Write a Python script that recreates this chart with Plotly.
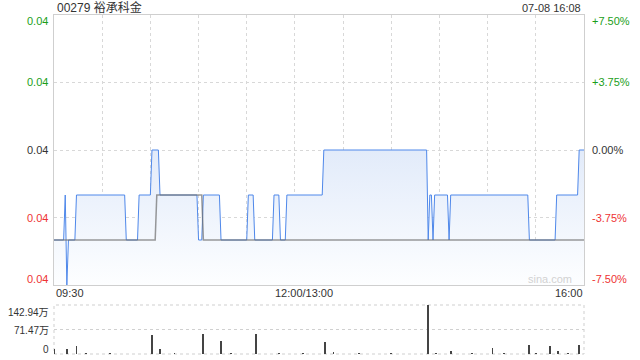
import plotly.graph_objects as go

# ---------------- data ----------------
title_text = "00279 裕承科金"
stamp_text = "07-08 16:08"
prev_close = 0.040

price_times = ["09:30", "09:36", "09:37", "09:38", "09:39", "09:43", "09:44", "10:14", "10:15",
               "10:22", "10:23", "10:30", "10:31", "10:35", "10:36", "10:59", "11:00", "11:02",
               "11:03", "11:13", "11:14", "11:30", "11:31", "11:34", "11:35", "11:46", "11:47",
               "11:50", "11:51", "11:54", "11:55", "13:17", "13:18", "14:22", "14:23", "14:24",
               "14:25", "14:26", "14:27", "14:35", "14:36", "14:37", "15:25", "15:26", "15:42",
               "15:43", "15:56", "15:57", "16:00"]
price_values = [0.038, 0.038, 0.039, 0.037, 0.038, 0.038, 0.039, 0.039, 0.038,
                0.038, 0.039, 0.039, 0.040, 0.040, 0.039, 0.039, 0.038, 0.038,
                0.039, 0.039, 0.038, 0.038, 0.039, 0.039, 0.038, 0.038, 0.039,
                0.039, 0.038, 0.038, 0.039, 0.039, 0.040, 0.040, 0.038, 0.039,
                0.039, 0.038, 0.039, 0.039, 0.038, 0.039, 0.039, 0.038, 0.038,
                0.039, 0.039, 0.040, 0.040]

avg_times = ["09:30", "10:33", "10:34", "11:02", "11:03", "16:00"]
avg_values = [0.038, 0.038, 0.039, 0.039, 0.038, 0.038]

vol_times = ["09:30", "09:38", "09:44", "09:50", "10:05", "10:31", "10:36", "10:45", "11:03",
             "11:14", "11:20", "11:36", "11:50", "13:05", "13:19", "13:24", "13:40", "14:00",
             "14:23", "14:28", "14:37", "14:50", "15:03", "15:10", "15:26", "15:30", "15:39",
             "15:44", "15:50", "15:57"]
vol_values = [13.6, 14.6, 24.0, 1.5, 1.0, 55.4, 15.6, 2.0, 59.0,
              39.0, 1.0, 59.0, 1.5, 2.0, 35.0, 7.0, 1.0, 1.5,
              142.94, 2.0, 8.0, 1.0, 17.5, 1.5, 27.0, 1.0, 23.0,
              9.0, 2.0, 27.0]  # 万

price_ticks = [0.037, 0.0385, 0.040, 0.0415, 0.043]
price_tick_text = ["0.04", "0.04", "0.04", "0.04", "0.04"]
pct_tick_text = ["-7.50%", "-3.75%", "0.00%", "+3.75%", "+7.50%"]
vol_ticks = [0, 71.47, 142.94]
vol_tick_text = ["0", "71.47万", "142.94万"]
x_label_times = ["09:30", "12:00", "16:00"]
x_label_text = ["09:30", "12:00/13:00", "16:00"]
grid_times = ["09:30", "10:00", "10:30", "11:00", "11:30", "12:00", "13:30", "14:00",
              "14:30", "15:00", "15:30", "16:00"]


def to_pos(t):
    h, m = map(int, t.split(":"))
    mins = h * 60 + m
    if mins <= 12 * 60:
        return mins - (9 * 60 + 30)
    return 150 + mins - 13 * 60


GREEN = "#1a9e1a"
RED = "#ee3333"
BLACK = "#333333"
FONT = "Arial, 'Liberation Sans', 'Noto Sans CJK SC', sans-serif"

px = [to_pos(t) for t in price_times]
ax = [to_pos(t) for t in avg_times]
vx = [to_pos(t) for t in vol_times]
x_end = to_pos("16:00")
y_lo, y_hi = price_ticks[0], price_ticks[-1]

fig = go.Figure()

# baseline for fill
fig.add_trace(go.Scatter(x=[0, x_end], y=[y_lo, y_lo], mode="lines",
                         line=dict(width=0), hoverinfo="skip", showlegend=False))
fig.add_trace(go.Scatter(
    x=px, y=price_values, mode="lines", fill="tonexty",
    line=dict(color="#4f88ea", width=1),
    fillgradient=dict(type="vertical", start=y_lo, stop=prev_close,
                      colorscale=[[0, "#fdfeff"], [1, "#e2ebfa"]]),
    showlegend=False))
fig.add_trace(go.Scatter(x=ax, y=avg_values, mode="lines",
                         line=dict(color="rgba(110,110,110,0.7)", width=1.5),
                         showlegend=False))

fig.add_trace(go.Bar(x=vx, y=vol_values, xaxis="x2", yaxis="y2", width=0.55,
                     marker=dict(color="#444444", line=dict(width=0)), showlegend=False))

main_dom = [1 - 285 / 360, 1 - 15 / 360]
vol_dom = [1 - 354 / 360, 1 - 305 / 360]

fig.update_layout(
    width=640, height=360,
    margin=dict(l=54, r=56, t=0, b=0, autoexpand=False),
    paper_bgcolor="white", plot_bgcolor="white",
    font=dict(family=FONT, size=11, color=BLACK),
    bargap=0,
    xaxis=dict(domain=[0, 1], range=[0, x_end], tickvals=[to_pos(t) for t in grid_times],
               showticklabels=False, ticks="", showgrid=True, gridcolor="#d8d8d8",
               griddash="dot", gridwidth=1, zeroline=False,
               showline=True, mirror=True, linecolor="#cfcfcf", linewidth=1, anchor="y"),
    yaxis=dict(domain=main_dom, range=[y_lo, y_hi], tickvals=price_ticks,
               showticklabels=False, ticks="", showgrid=True, gridcolor="#d8d8d8",
               griddash="dot", zeroline=False,
               showline=True, mirror=True, linecolor="#cfcfcf", linewidth=1, anchor="x"),
    xaxis2=dict(domain=[0, 1], range=[0, x_end], showticklabels=False, ticks="",
                showgrid=False, zeroline=False, showline=False, anchor="y2"),
    yaxis2=dict(domain=vol_dom, range=[0, vol_ticks[-1]], tickvals=vol_ticks,
                showticklabels=False, ticks="", showgrid=True, gridcolor="#d0d0d0",
                griddash="dot", zeroline=False, showline=False, anchor="x2"),
)

# volume box (dotted)
fig.add_shape(type="rect", xref="x2 domain", yref="y2 domain", x0=0, x1=1, y0=0, y1=1,
              line=dict(color="#cfcfcf", width=1, dash="dot"), layer="below")

ann = []
ann.append(dict(text=title_text, xref="paper", yref="paper", x=0, y=1 - 7.5 / 360,
                xanchor="left", yanchor="middle", xshift=1, showarrow=False,
                font=dict(size=12, color=BLACK)))
ann.append(dict(text=stamp_text, xref="paper", yref="paper", x=1, y=1 - 7.5 / 360,
                xanchor="right", yanchor="middle", xshift=-1, showarrow=False,
                font=dict(size=11, color=BLACK)))

n = len(price_ticks)
for i, (v, lt, rt) in enumerate(zip(price_ticks, price_tick_text, pct_tick_text)):
    if v > prev_close + 1e-9:
        col = GREEN
    elif v < prev_close - 1e-9:
        col = RED
    else:
        col = BLACK
    ys = 0
    if i == 0:
        ys = 6
    elif i == n - 1:
        ys = -6
    ann.append(dict(text=lt, xref="paper", yref="y", x=0, y=v, xanchor="right",
                    yanchor="middle", xshift=-4, yshift=ys, showarrow=False,
                    font=dict(size=11, color=col)))
    ann.append(dict(text=rt, xref="paper", yref="y", x=1, y=v, xanchor="left",
                    yanchor="middle", xshift=6, yshift=ys, showarrow=False,
                    font=dict(size=11, color=col)))

anchors = ["left", "center", "right"]
shifts = [0, 9, 1]
for t, lab, a, s in zip(x_label_times, x_label_text, anchors, shifts):
    ann.append(dict(text=lab, xref="x", yref="paper", x=to_pos(t), y=1 - 293 / 360,
                    xanchor=a, yanchor="middle", xshift=s, showarrow=False,
                    font=dict(size=11, color=BLACK)))

vshifts = [5, -1, -7]
for v, lab, s in zip(vol_ticks, vol_tick_text, vshifts):
    ann.append(dict(text=lab, xref="paper", yref="y2", x=0, y=v, xanchor="right",
                    yanchor="middle", xshift=-3, yshift=s,
                    showarrow=False, font=dict(size=10, color=BLACK)))

ann.append(dict(text="sina.com", xref="paper", yref="paper", x=1, y=1 - 279 / 360,
                xanchor="right", yanchor="middle", xshift=-10, showarrow=False,
                font=dict(size=11, color="#d2d2d2")))

fig.update_layout(annotations=ann)
fig.write_html("out.html")
